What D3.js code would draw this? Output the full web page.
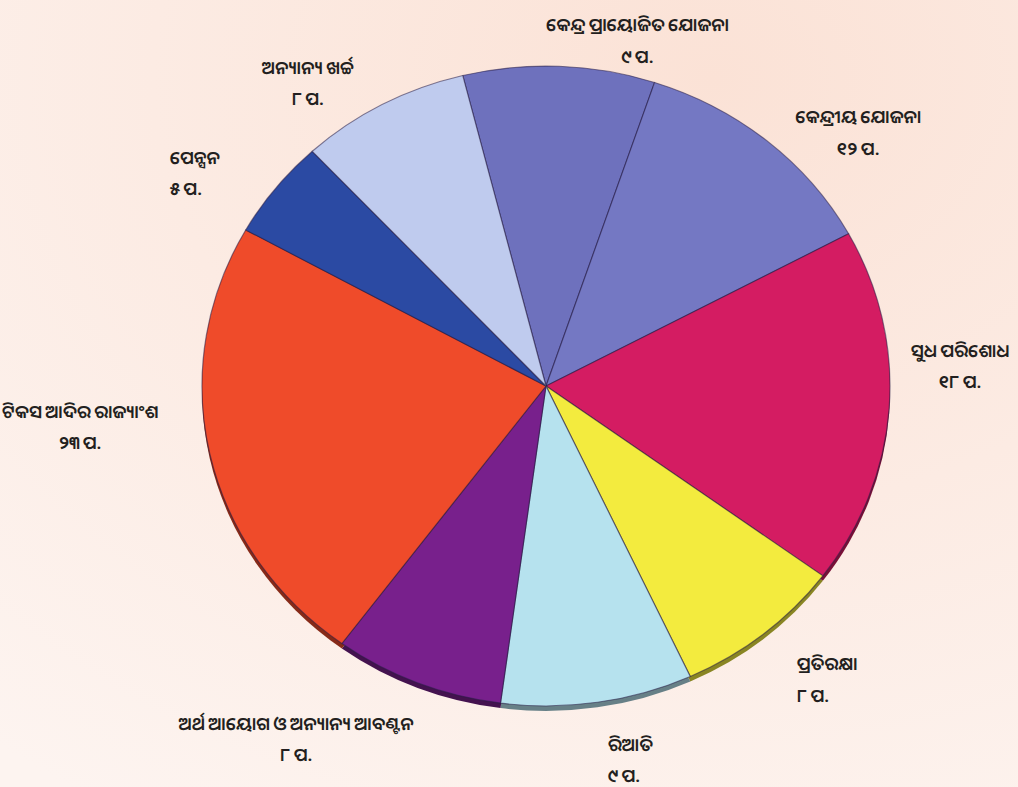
<!DOCTYPE html>
<html>
<head>
<meta charset="utf-8">
<script src="https://cdn.jsdelivr.net/npm/d3@7"></script>
<style>
  html, body { margin: 0; padding: 0; background: #fbe8df; }
  svg { display: block; }
  .lbl { font-family: "Noto Sans Oriya", "Noto Sans", "DejaVu Sans", sans-serif; font-size: 18px; fill: #231f20; font-weight: 600; word-spacing: -1px; }
</style>
</head>
<body>
<div class="pieChart"></div>
<script>
// budget share, paise per rupee
var categories = [
  "କେନ୍ଦ୍ର ପ୍ରାୟୋଜିତ ଯୋଜନା",
  "କେନ୍ଦ୍ରୀୟ ଯୋଜନା",
  "ସୁଧ ପରିଶୋଧ",
  "ପ୍ରତିରକ୍ଷା",
  "ରିଆତି",
  "ଅର୍ଥ ଆୟୋଗ ଓ ଅନ୍ୟାନ୍ୟ ଆବଣ୍ଟନ",
  "ଟିକସ ଆଦିର ରାଜ୍ୟାଂଶ",
  "ପେନ୍ସନ",
  "ଅନ୍ୟାନ୍ୟ ଖର୍ଚ୍ଚ"
];
var values = [9, 12, 18, 8, 9, 8, 23, 5, 8];
var valueLabels = ["୯ ପ.", "୧୨ ପ.", "୧୮ ପ.", "୮ ପ.", "୯ ପ.", "୮ ପ.", "୨୩ ପ.", "୫ ପ.", "୮ ପ."];

var colors = ["#6e71bd", "#7478c3", "#d41c62", "#f3eb3e", "#b6e2ee", "#78208c", "#ef4b2a", "#2b4aa3", "#bfcbee"];

function drawPie() {
  var width = 1018, height = 787;
  var cx = 546, cy = 386;
  var radius = 344, squash = 0.93;
  var start = -14 * Math.PI / 180;

  // label nudges from the label-arc centroid [dx, dy, anchor]
  var labelNudge = [
    [76, 17, "middle"],
    [55, 22, "middle"],
    [15, -55, "middle"],
    [-2, -4, "start"],
    [2, -3, "start"],
    [-100, -1, "middle"],
    [-75, -47, "middle"],
    [-62, 8, "start"],
    [-48, 15, "middle"]
  ];

  var svg = d3.select(".pieChart").append("svg")
      .attr("width", width)
      .attr("height", height);

  var defs = svg.append("defs");
  var bg = defs.append("radialGradient").attr("id", "bg")
      .attr("cx", "70%").attr("cy", "10%").attr("r", "110%");
  bg.append("stop").attr("offset", "0%").attr("stop-color", "#fbe2d6");
  bg.append("stop").attr("offset", "100%").attr("stop-color", "#fdf4f0");

  svg.append("rect").attr("width", width).attr("height", height).attr("fill", "url(#bg)");

  var pie = d3.pie().sort(null).startAngle(start).endAngle(start + 2 * Math.PI);
  var arcs = pie(values);

  var arc = d3.arc().innerRadius(0).outerRadius(radius);
  var labelArc = d3.arc().innerRadius(400).outerRadius(400);

  // bottom rim for the slight tilt
  svg.append("g")
      .attr("transform", "translate(" + cx + "," + (cy + 5) + ") scale(1," + squash + ")")
    .selectAll("path")
    .data(arcs)
    .enter().append("path")
      .attr("d", arc)
      .attr("fill", function(d, i) { return d3.color(colors[i]).darker(1.6); });

  svg.append("g")
      .attr("transform", "translate(" + cx + "," + cy + ") scale(1," + squash + ")")
    .selectAll("path")
    .data(arcs)
    .enter().append("path")
      .attr("d", arc)
      .attr("fill", function(d, i) { return colors[i]; })
      .attr("stroke", "rgba(40,30,70,0.55)")
      .attr("stroke-width", 1.2);

  var labels = svg.append("g").attr("transform", "translate(" + cx + "," + cy + ")");
  arcs.forEach(function(d, i) {
    var c = labelArc.centroid(d);
    var x = c[0] + labelNudge[i][0];
    var y = c[1] * squash + labelNudge[i][1];
    var t = labels.append("text")
        .attr("class", "lbl")
        .attr("text-anchor", labelNudge[i][2])
        .attr("x", x)
        .attr("y", y);
    t.append("tspan").attr("x", x).attr("dy", "0").text(categories[i]);
    t.append("tspan").attr("x", x).attr("dy", "1.75em").text(valueLabels[i]);
  });
}
drawPie();
</script>
</body>
</html>
